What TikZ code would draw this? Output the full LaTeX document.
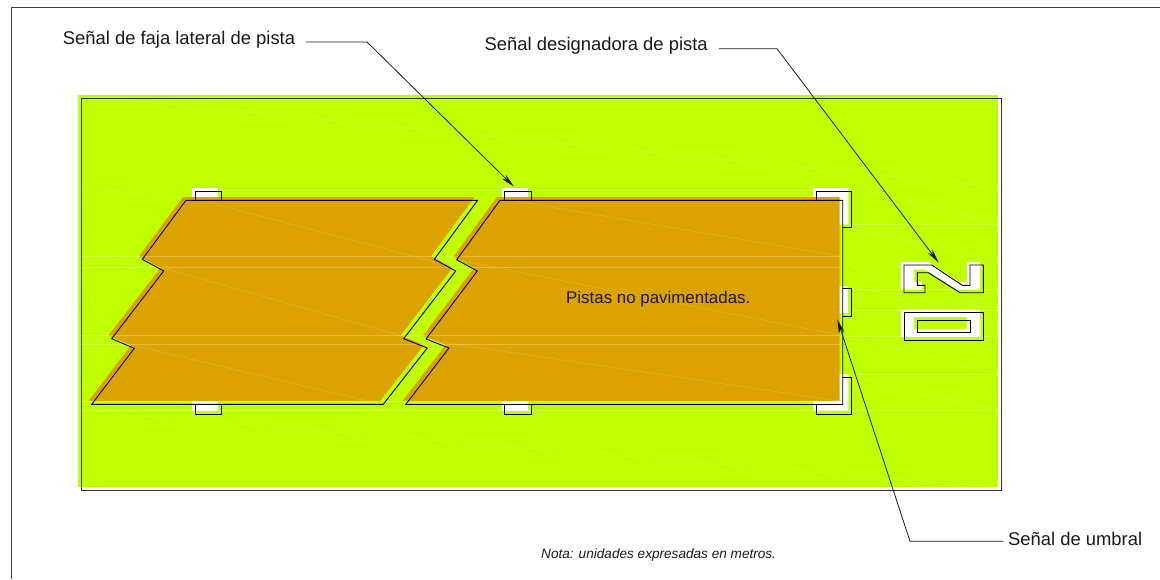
\documentclass[tikz,border=0pt]{standalone}
\usepackage{fontspec}
\setmainfont{Liberation Sans}
\usetikzlibrary{arrows.meta}
\definecolor{limeg}{RGB}{192,255,0}
\definecolor{ochre}{RGB}{219,162,0}
\tikzset{
  ground/.style={fill=limeg,draw=none},
  paved/.style={fill=ochre,draw=none},
  halo/.style={fill=white,draw=none},
  mark outline/.style={draw=black,line width=0.9pt,line join=miter},
  faint/.style={draw=white,line width=0.4pt,opacity=0.25},
  frameline/.style={draw=black!75,line width=1pt},
  leader/.style={draw=black!85,line width=0.8pt},
  pointer/.style={draw=black!90,line width=0.8pt,-{Stealth[length=14pt,width=5.5pt,inset=4pt]}},
  label/.style={anchor=base west,inner sep=0pt,font=\fontsize{18.4}{20}\selectfont,text=black!90},
}
\begin{document}
\begin{tikzpicture}[x=1pt,y=-1pt]
\useasboundingbox (0,0) rectangle (1160,579);
% outer frame (left and top only, the rest is cropped)
\draw[frameline] (11.7,579) -- (11.7,7.5) -- (1160,7.5);
% ground
\fill[ground] (78,95.3) rectangle (998,487);
% white halos of the marks
\foreach \xa in {192,502}{
  \fill[halo] (\xa,188) rectangle ++(26,9.5);
  \fill[halo] (\xa,401) rectangle ++(26,9.5);
}
\fill[halo] (813.3,188) -- (848.3,188) -- (848.3,224.3) -- (835,224.3) -- (835,197) -- (813.3,197) -- cycle;
\fill[halo] (835,286) rectangle (848.3,313);
\fill[halo] (835,374) -- (848.3,374) -- (848.3,410.7) -- (813.3,410.7) -- (813.3,400) -- (835,400) -- cycle;
% designator halos
\begin{scope}[shift={(-3.2,-3.2)}]
\fill[halo] (904,265) -- (931.7,265) -- (962.3,285.3) -- (970,285.3) -- (970,265) -- (983.3,265) -- (983.3,292.7) -- (960,292.7) -- (928.3,272.7) -- (917.3,272.7) -- (917.3,285.3) -- (925,285.3) -- (925,292.7) -- (904,292.7) -- cycle;
\fill[halo,even odd rule] (904,312.7) rectangle (983.3,340) (917.3,320) rectangle (970,332.3);
\end{scope}
% unpaved strips (fill is offset from outline)
\begin{scope}[shift={(-3.2,-3.2)}]
\fill[paved] (186,200.3) -- (477.7,200.3) -- (434.3,259.3) -- (455.7,271) -- (403.7,338.7) -- (427.3,348) -- (383.3,404) -- (91.7,404) -- (134.3,348.3) -- (111.7,338.7) -- (163.7,271) -- (142.3,259.3) -- cycle;
\fill[paved] (500,200.3) -- (842.7,200.3) -- (842.7,404) -- (405.7,404) -- (449,348) -- (426,339) -- (477.3,271) -- (456.7,259.7) -- cycle;
\end{scope}
% faint triangulation lines
\foreach \pa/\pb/\pc/\pd in {
 127/100/997/187, 82/188/186/198, 220/190/503/190, 531/190/813/190,
 207/202/435/262, 515/201/840/256, 163/268/402/336, 457/260/840/335,
 132/345/380/404, 427/340/840/401, 82/256/840/256, 82/267/840/267,
 82/335.5/840/335.5, 82/344/840/344, 82/401.5/840/401.5, 82/410/997/410,
 852/188/997/223, 852/224/997/224, 852/228/997/261, 845/263/900/285,
 852/289/997/289, 852/288/997/308, 852/310/997/310, 984/267/997/288,
 984/313/997/335, 845/336/997/336, 845/337/997/374, 852/374/997/374,
 852/377/997/410, 93/412/993/487, 82/200/140/256, 82/277/108/335,
 82/367/88/401, 82/257/142/267, 82/336/112/343, 462/232/455/256,
 437/300/412/378}{
  \draw[faint] (\pa,\pb) -- (\pc,\pd);
}
% inner frame
\draw[draw=black!80,line width=0.9pt] (81.3,98.7) rectangle (1001.7,490.7);
% black outlines of the strips
\draw[mark outline] (186,200.3) -- (477.7,200.3) -- (434.3,259.3) -- (455.7,271) -- (403.7,338.7) -- (427.3,348) -- (383.3,404.3) -- (91.7,404.3) -- (134.3,348.3) -- (111.7,338.7) -- (163.7,271) -- (142.3,259.3) -- cycle;
\draw[mark outline] (500,200.3) -- (842.7,200.3) -- (842.7,404.5) -- (405.7,404.5) -- (449,348) -- (426,339) -- (477.3,271) -- (456.7,259.7) -- cycle;
% side-stripe tabs
\foreach \xa/\xb in {195/221.7,504.3/531.7}{
  \draw[mark outline] (\xa,200.3) -- (\xa,191) -- (\xb,191) -- (\xb,200.3);
  \draw[mark outline] (\xa,404.3) -- (\xa,414) -- (\xb,414) -- (\xb,404.3);
}
% threshold marks
\draw[mark outline] (816.3,200.3) -- (816.3,191) -- (851.7,191) -- (851.7,227.7) -- (842.7,227.7);
\draw[mark outline] (842.7,288.7) -- (851.7,288.7) -- (851.7,316) -- (842.7,316);
\draw[mark outline] (842.7,377.3) -- (851.7,377.3) -- (851.7,414) -- (816.3,414) -- (816.3,404.5);
% designator 20
\draw[mark outline] (904,265) -- (931.7,265) -- (962.3,285.3) -- (970,285.3) -- (970,265) -- (983.3,265) -- (983.3,292.7) -- (960,292.7) -- (928.3,272.7) -- (917.3,272.7) -- (917.3,285.3) -- (925,285.3) -- (925,292.7) -- (904,292.7) -- cycle;
\draw[mark outline] (904,312.7) rectangle (983.3,340);
\draw[mark outline] (917.3,320) rectangle (970,332.3);
% labels
\node[label] (lbla) at (62.7,44) {Señal de faja lateral de pista};
\node[label] (lblb) at (484.5,50.7) {Señal designadora de pista};
\node[label] (lblc) at (1008,545) {Señal de umbral};
\node[label,font=\fontsize{16.9}{19}\selectfont] (lbld) at (566,303) {Pistas no pavimentadas.};
\node[label,font=\fontsize{13.6}{15}\selectfont\itshape] (lble) at (541,558) {Nota: unidades expresadas en metros.};
% leaders
\coordinate (sa) at (306,42);
\coordinate (ka) at (367,42);
\coordinate (ta) at (514,186.7);
\coordinate (sb) at (719,48.7);
\coordinate (kb) at (777,48.7);
\coordinate (tb) at (938.7,262.7);
\coordinate (sc) at (1003.3,541.3);
\coordinate (kc) at (910,541.3);
\coordinate (tc) at (837.3,319.3);
\draw[pointer] (sa) -- (ka) -- (ta);
\draw[pointer] (sb) -- (kb) -- (tb);
\draw[pointer] (sc) -- (kc) -- (tc);
\end{tikzpicture}
\end{document}
